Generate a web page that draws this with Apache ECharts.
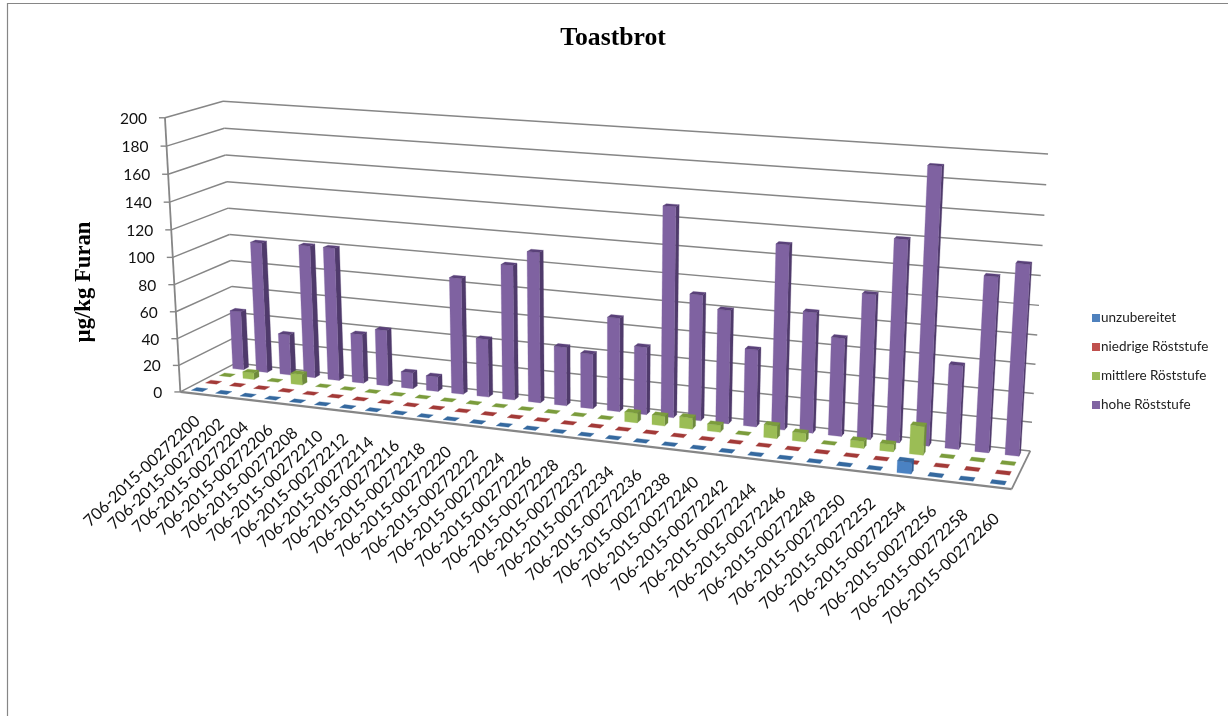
<!DOCTYPE html>
<html>
<head>
<meta charset="utf-8">
<title>Toastbrot</title>
<style>html,body{margin:0;padding:0;background:#fff}#chart{width:1228px;height:716px}</style>
<script src="https://cdn.jsdelivr.net/npm/echarts@6/dist/echarts.min.js"></script>
</head>
<body>
<div id="chart"></div>
<script>
// Furan content per toast sample and browning level (µg/kg)
const categories = [
  '706-2015-00272200','706-2015-00272202','706-2015-00272204','706-2015-00272206','706-2015-00272208',
  '706-2015-00272210','706-2015-00272212','706-2015-00272214','706-2015-00272216','706-2015-00272218',
  '706-2015-00272220','706-2015-00272222','706-2015-00272224','706-2015-00272226','706-2015-00272228',
  '706-2015-00272232','706-2015-00272234','706-2015-00272236','706-2015-00272238','706-2015-00272240',
  '706-2015-00272242','706-2015-00272244','706-2015-00272246','706-2015-00272248','706-2015-00272250',
  '706-2015-00272252','706-2015-00272254','706-2015-00272256','706-2015-00272258','706-2015-00272260'
];
const unzubereitet = [0,0,0,0,0,0,0,0,0,0,0,0,0,0,0,0,0,0,0,0,0,0,0,0,0,0,8,0,0,0];
const niedrig      = [0,0,0,0,0,0,0,0,0,0,0,0,0,0,0,0,0,0,0,0,0,0,0,0,0,0,0,0,0,0];
const mittel       = [0,5,0,8,0,0,0,0,0,0,0,0,0,0,0,0,7,7,8,5,0,9,6,0,5,5,20,0,0,0];
const hoch         = [45,99,31,100,100,37,42,12,11,86,43,99,110,43,40,68,49,150,90,81,55,130,85,69,101,140,190,58,120,130];
const valueTicks   = [0,20,40,60,80,100,120,140,160,180,200];
const seriesNames  = ['unzubereitet','niedrige Röststufe','mittlere Röststufe','hohe Röststufe'];

// Face colours of each column: front, right side, top
const shades = {
  'unzubereitet':       ['#4A82C3','#2F5F97','#35699F'],
  'niedrige Röststufe': ['#C0504D','#8A3533','#A33A38'],
  'mittlere Röststufe': ['#9BBD55','#6E8A3C','#7B9C3C'],
  'hohe Röststufe':     ['#7F62A1','#4F3A6B','#5A4179']
};
const legendColors = ['#4F81BD','#C0504D','#9BBB59','#8064A2'];

// Where the plot box lands on the page: [u, v, w, pageX, pageY]
const boxAnchors = [
  [0,0,0, 180,390],[0,0,1, 236,365],[1,0,0, 1012,490],[1,0,1, 1030,450],
  [0,1,0, 165,119],[0,1,1, 223,100],[1,1,1, 1048,154]
];

// Least-squares fit of a 3D-to-2D projective camera to the anchors
function fitCamera(points) {
  const rows = [], rhs = [];
  points.forEach(([u,v,w,x,y]) => {
    const X = x / 1000, Y = y / 1000;
    rows.push([u,v,w,1,0,0,0,0,-X*u,-X*v,-X*w]); rhs.push(X);
    rows.push([0,0,0,0,u,v,w,1,-Y*u,-Y*v,-Y*w]); rhs.push(Y);
  });
  const n = 11, A = [];
  for (let i = 0; i < n; i++) {
    A.push(new Array(n + 1).fill(0));
    for (let j = 0; j < n; j++) rows.forEach(r => { A[i][j] += r[i] * r[j]; });
    A[i][n] = rows.reduce((s, r, k) => s + r[i] * rhs[k], 0);
    A[i][i] += 1e-10;
  }
  for (let c = 0; c < n; c++) {
    let best = c;
    for (let r = c + 1; r < n; r++) if (Math.abs(A[r][c]) > Math.abs(A[best][c])) best = r;
    [A[c], A[best]] = [A[best], A[c]];
    for (let r = 0; r < n; r++) {
      if (r === c) continue;
      const f = A[r][c] / A[c][c];
      for (let k = c; k <= n; k++) A[r][k] -= f * A[c][k];
    }
  }
  return A.map((row, i) => row[n] / row[i]);
}
const cam = fitCamera(boxAnchors);
function project(u, v, w) {
  const d = cam[8]*u + cam[9]*v + cam[10]*w + 1;
  return [
    1000 * (cam[0]*u + cam[1]*v + cam[2]*w + cam[3]) / d,
    1000 * (cam[4]*u + cam[5]*v + cam[6]*w + cam[7]) / d
  ];
}

// Scale positions from the hidden cartesian grid, as box fractions
function toBox(api, params, cat, val) {
  const p = api.coord([cat, val]), r = params.coordSys;
  return [(p[0] - r.x) / r.width, (r.y + r.height - p[1]) / r.height];
}

const BAR_WIDTH = 0.46, BAR_DEPTH = 0.38, GRID_COLOR = '#868686';

function barSeries(name, values, row) {
  const [front, side, top] = shades[name];
  return {
    name, type: 'custom', coordinateSystem: 'cartesian2d',
    itemStyle: { color: legendColors[row] },
    data: values.map((v, i) => [i, v]),
    renderItem(params, api) {
      const [u, v] = toBox(api, params, api.value(0), api.value(1));
      const halfU = api.size([1, 0])[0] / params.coordSys.width * BAR_WIDTH / 2;
      const w0 = (row + 0.5 - BAR_DEPTH / 2) / 4, w1 = (row + 0.5 + BAR_DEPTH / 2) / 4;
      const u0 = u - halfU, u1 = u + halfU;
      const face = (pts, fill) => ({
        type: 'polygon', shape: { points: pts.map(q => project(q[0], q[1], q[2])) },
        style: { fill, stroke: fill, lineWidth: 0.3 }
      });
      const children = [];
      if (v > 0) {
        children.push(face([[u1,0,w0],[u1,0,w1],[u1,v,w1],[u1,v,w0]], side));
        children.push(face([[u0,0,w0],[u1,0,w0],[u1,v,w0],[u0,v,w0]], front));
      }
      children.push(face([[u0,v,w0],[u1,v,w0],[u1,v,w1],[u0,v,w1]], top));
      return { type: 'group', children };
    }
  };
}

// Walls, floor outline, tick marks and value labels
const wallSeries = {
  type: 'custom', coordinateSystem: 'cartesian2d', silent: true, z: 1,
  data: valueTicks.map(t => [0, t]),
  renderItem(params, api) {
    const val = api.value(1);
    const v = toBox(api, params, 0, val)[1];
    const line = (a, b, width) => {
      const p = project(a[0], a[1], a[2]), q = project(b[0], b[1], b[2]);
      return { type: 'line', shape: { x1: p[0], y1: p[1], x2: q[0], y2: q[1] },
               style: { stroke: GRID_COLOR, lineWidth: width } };
    };
    const kids = [line([0,v,0],[0,v,1],1.5), line([0,v,1],[1,v,1],1.5)];
    const start = project(0, v, 0);
    kids.push({ type: 'line', shape: { x1: start[0] - 6, y1: start[1], x2: start[0], y2: start[1] },
                style: { stroke: GRID_COLOR, lineWidth: 1.4 } });
    kids.push({ type: 'text', x: start[0] - 18, y: start[1] + 1, style: {
      text: String(val), align: 'right', verticalAlign: 'middle',
      font: '15.5px Lato', fill: '#111' } });
    if (val === 0) {
      kids.push(line([1,0,0],[1,0,1],1.8), line([0,0,0],[1,0,0],2.2));
      kids.push(line([0,0,0],[0,1,0],1.8));
    }
    return { type: 'group', children: kids };
  }
};

// Rotated sample labels under the front edge of the floor
const labelSeries = {
  type: 'custom', coordinateSystem: 'cartesian2d', silent: true, z: 3,
  data: categories.map((c, i) => [i, 0]),
  renderItem(params, api) {
    const i = api.value(0);
    const u = toBox(api, params, i, 0)[0];
    const p = project(u, 0, 0);
    return { type: 'text', x: p[0] + 5 - 4 * u, y: p[1] + 25 + 4 * u, rotation: 43.5 * Math.PI / 180, style: {
      text: categories[i], align: 'right', verticalAlign: 'middle',
      font: '16.2px Lato', fill: '#111' } };
  }
};

const chart = echarts.init(document.getElementById('chart'), null, { renderer: 'canvas' });
chart.setOption({
  animation: false,
  backgroundColor: '#fff',
  title: { text: 'Toastbrot', left: 608, top: 20, textAlign: 'center',
           textStyle: { fontFamily: 'Liberation Serif', fontWeight: 'bold', fontSize: 25.7, color: '#000' } },
  legend: {
    orient: 'vertical', left: 1087, top: 306, itemWidth: 8, itemHeight: 8, itemGap: 15,
    icon: 'rect', selectedMode: false, data: seriesNames,
    textStyle: { fontFamily: 'Lato', fontSize: 13.5, color: '#222', padding: [0,0,0,-4] }
  },
  grid: { left: 0, top: 0, width: 1000, height: 600, show: false },
  xAxis: { type: 'category', data: categories, show: false },
  yAxis: { type: 'value', min: 0, max: 200, interval: 20, show: false },
  graphic: [
    { type: 'polyline', silent: true, shape: { points: [[7.5,716],[7.5,3.5],[1228,3.5]] },
      style: { stroke: '#868686', fill: null, lineWidth: 1.2 } },
    { type: 'text', x: 84, y: 282, rotation: Math.PI / 2, silent: true, style: {
      text: 'µg/kg Furan', align: 'center', verticalAlign: 'middle',
      font: 'bold 22.7px "Liberation Serif"', fill: '#000' } }
  ],
  series: [
    wallSeries,
    barSeries(seriesNames[3], hoch, 3),
    barSeries(seriesNames[2], mittel, 2),
    barSeries(seriesNames[1], niedrig, 1),
    barSeries(seriesNames[0], unzubereitet, 0),
    labelSeries
  ]
});
</script>
</body>
</html>
